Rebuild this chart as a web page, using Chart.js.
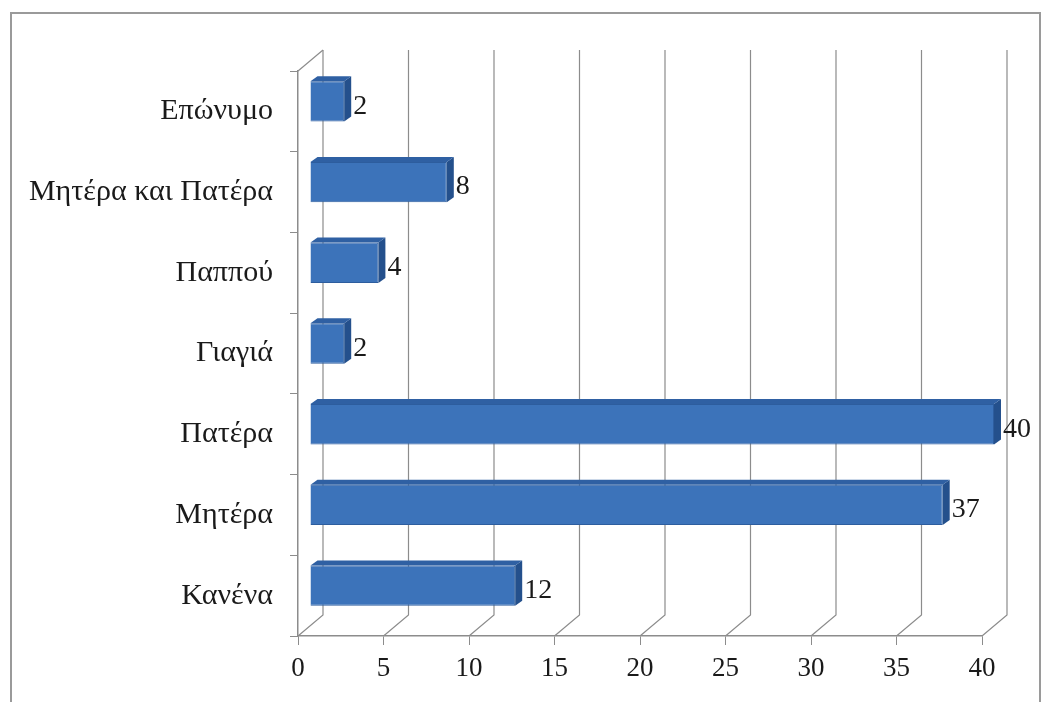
<!DOCTYPE html>
<html>
<head>
<meta charset="utf-8">
<script src="https://cdn.jsdelivr.net/npm/chart.js@4"></script>
<style>
  html, body { margin: 0; padding: 0; background: #fff; }
  #wrap { width: 1051px; height: 702px; position: relative; }
</style>
</head>
<body>
<div id="wrap"><canvas id="bars" width="1051" height="702"></canvas></div>
<script>
// categories top to bottom, as in the picture
const categories = ['Επώνυμο', 'Μητέρα και Πατέρα', 'Παππού', 'Γιαγιά', 'Πατέρα', 'Μητέρα', 'Κανένα'];
const counts = [2, 8, 4, 2, 40, 37, 12];
const xTicks = [0, 5, 10, 15, 20, 25, 30, 35, 40];

const serif = '"Liberation Serif", "DejaVu Serif", serif';
// 3d look: how far the back wall sits from the front plane
const depthX = 25, depthY = -21;
const barShiftX = 12, barShiftY = -10;

// grey frame round the whole picture
const framePlugin = {
  id: 'frame',
  beforeDraw(chart) {
    const ctx = chart.ctx;
    ctx.save();
    ctx.fillStyle = '#fff';
    ctx.fillRect(0, 0, chart.width, chart.height);
    ctx.strokeStyle = '#9a9a9a';
    ctx.lineWidth = 2;
    ctx.strokeRect(11, 13, 1029, 720);
    ctx.restore();
  }
};

// back wall grid lines + the little diagonals on the floor
const wallPlugin = {
  id: 'wall',
  beforeDatasetsDraw(chart) {
    const { ctx, chartArea } = chart;
    const xs = chart.scales.x;
    ctx.save();
    ctx.strokeStyle = '#8c8c8c';
    ctx.lineWidth = 1.2;
    xTicks.forEach(v => {
      const px = xs.getPixelForValue(v);
      ctx.beginPath();
      ctx.moveTo(px, chartArea.bottom);
      ctx.lineTo(px + depthX, chartArea.bottom + depthY);
      ctx.lineTo(px + depthX, chartArea.top + depthY);
      ctx.stroke();
    });
    // top left corner of the side wall
    ctx.beginPath();
    ctx.moveTo(chartArea.left, chartArea.top);
    ctx.lineTo(chartArea.left + depthX, chartArea.top + depthY);
    ctx.stroke();
    ctx.restore();
  }
};

// bars are drawn a bit back from the front plane, with a dark end face
const shiftPlugin = {
  id: 'shift',
  beforeDatasetsDraw(chart) {
    chart.ctx.save();
    chart.ctx.translate(barShiftX, barShiftY);
  },
  afterDatasetsDraw(chart) {
    const ctx = chart.ctx;
    const meta = chart.getDatasetMeta(0);
    meta.data.forEach((bar, i) => {
      const top = bar.y - bar.height / 2;
      const bottom = bar.y + bar.height / 2;
      // end face
      ctx.fillStyle = '#24508c';
      ctx.beginPath();
      ctx.moveTo(bar.x, top);
      ctx.lineTo(bar.x + 7, top - 5);
      ctx.lineTo(bar.x + 7, bottom - 5);
      ctx.lineTo(bar.x, bottom);
      ctx.closePath();
      ctx.fill();
      // top face
      ctx.fillStyle = '#2f60a3';
      ctx.beginPath();
      ctx.moveTo(bar.base, top);
      ctx.lineTo(bar.base + 7, top - 5);
      ctx.lineTo(bar.x + 7, top - 5);
      ctx.lineTo(bar.x, top);
      ctx.closePath();
      ctx.fill();
      // value label
      ctx.fillStyle = '#1a1a1a';
      ctx.font = '28px ' + serif;
      ctx.textAlign = 'left';
      ctx.textBaseline = 'middle';
      ctx.fillText(String(counts[i]), bar.x + 9, bar.y + 5);
    });
    ctx.restore();
  }
};

// a soft vertical shine on each bar, like the picture
function barFill(context) {
  const bar = context.element;
  if (!bar || bar.height === undefined) return '#3c73ba';
  const top = bar.y - bar.height / 2;
  const g = context.chart.ctx.createLinearGradient(0, top, 0, top + bar.height);
  g.addColorStop(0, '#3567ab');
  g.addColorStop(0.45, '#4279c0');
  g.addColorStop(1, '#3467ab');
  return g;
}

const ctx = document.getElementById('bars').getContext('2d');
new Chart(ctx, {
  type: 'bar',
  data: {
    labels: categories,
    datasets: [{
      data: counts,
      backgroundColor: barFill,
      borderColor: '#2d5d9e',
      borderWidth: 1,
      barPercentage: 0.5,
      categoryPercentage: 1
    }]
  },
  options: {
    indexAxis: 'y',
    responsive: false,
    animation: false,
    layout: { padding: { top: 71, right: 69, bottom: 0, left: 0 } },
    plugins: {
      legend: { display: false },
      tooltip: { enabled: false }
    },
    scales: {
      x: {
        min: 0,
        max: 40,
        afterBuildTicks(scale) {
          scale.ticks = xTicks.map(v => ({ value: v }));
        },
        afterFit(scale) { scale.height = 66; },
        grid: { drawOnChartArea: false, color: '#8c8c8c', tickLength: 9 },
        border: { color: '#8c8c8c', width: 1.5 },
        ticks: { color: '#1a1a1a', font: { family: serif, size: 27 }, padding: 8 }
      },
      y: {
        afterFit(scale) { scale.width = 298; },
        grid: { drawOnChartArea: false, color: '#8c8c8c', tickLength: 8 },
        border: { color: '#8c8c8c', width: 1.5 },
        ticks: { color: '#1a1a1a', font: { family: serif, size: 30 }, padding: 17 }
      }
    }
  },
  plugins: [framePlugin, wallPlugin, shiftPlugin]
});
</script>
</body>
</html>
